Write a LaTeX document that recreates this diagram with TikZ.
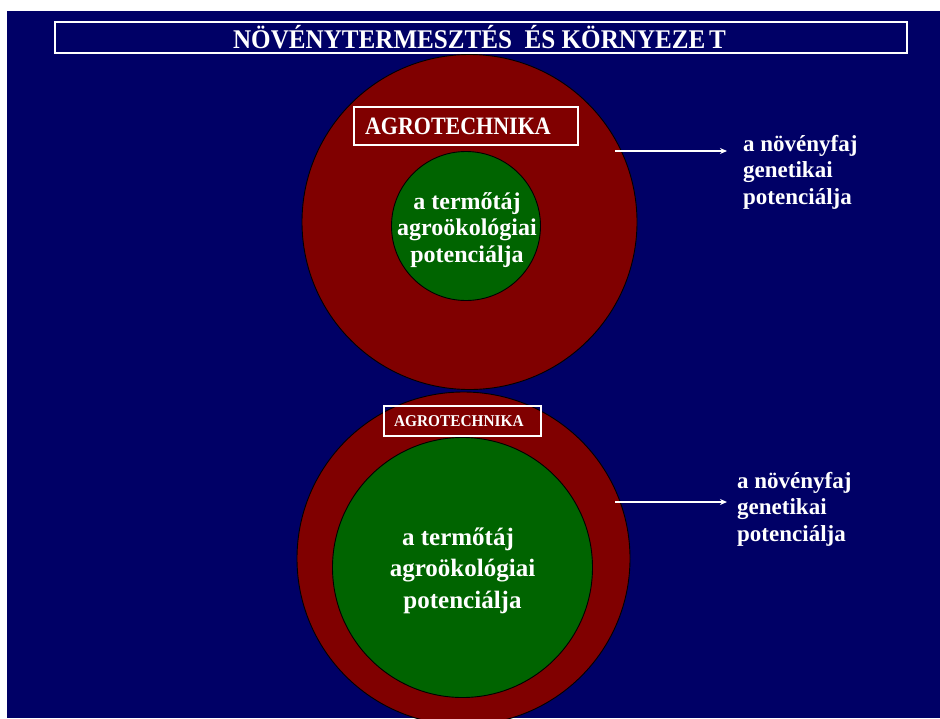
\documentclass[tikz,border=0pt]{standalone}
\usepackage{fontspec}
\setmainfont{Liberation Serif}
\usetikzlibrary{arrows.meta}
\definecolor{bgblue}{RGB}{0,0,102}
\definecolor{ringred}{RGB}{128,0,0}
\definecolor{coregreen}{RGB}{0,100,0}
\begin{document}
\begin{tikzpicture}[x=1pt,y=-1pt,
  ring/.style={circle,draw=black,line width=0.9pt,fill=ringred,inner sep=0pt},
  core/.style={circle,draw=black,line width=0.9pt,fill=coregreen,inner sep=0pt},
  coretext/.style={text=white,align=center,inner sep=0pt},
  labelbox/.style={draw=white,line width=1.3pt,text=white,align=left,inner ysep=0pt},
  sidetext/.style={text=white,align=left,inner sep=0pt,
    font=\fontsize{23}{26.5}\selectfont\bfseries},
  arr/.style={draw=white,line width=1.3pt,-{Stealth[length=7pt,width=6pt]}}]
\useasboundingbox (0,0) rectangle (940,718);
\fill[white] (0,0) rectangle (940,718);
\fill[bgblue] (7,11) rectangle (940,718);
% title
\node[draw=white,line width=1.5pt,minimum width=852pt,minimum height=31pt,inner sep=0pt] (tbox) at (481,37.5) {};
\node[text=white,anchor=base,inner sep=0pt,font=\fontsize{27}{30}\selectfont\bfseries] (title) at (479.5,48)
  {\scalebox{0.93}[1]{NÖVÉNYTERMESZTÉS\ \ ÉS KÖRNYEZE\hspace{4pt}T}};
% upper diagram
\node[ring,minimum size=335pt] (outer1) at (469.5,222) {};
\node[core,minimum size=149pt] (core1) at (466,226) {};
\node[coretext,font=\fontsize{24}{26.5}\selectfont\bfseries] (core1txt) at (467,230)
  {a termőtáj\\agroökológiai\\potenciálja};
\node[labelbox,minimum height=38pt,text width=202pt,inner xsep=11pt,
  font=\fontsize{25}{28}\selectfont\bfseries] (agro1) at (466,126)
  {\scalebox{0.88}[1]{AGROTECHNIKA}};
\node[sidetext,anchor=west] (gen1) at (743,172) {a növényfaj\\genetikai\\potenciálja};
\coordinate (a1s) at (615,151);
\coordinate (a1e) at (727,151);
\draw[arr] (a1s) -- (a1e);
% lower diagram
\node[ring,minimum size=333pt] (outer2) at (463.5,558.5) {};
\node[core,minimum size=260pt] (core2) at (462.5,567.5) {};
\node[coretext,font=\fontsize{25}{31.5}\selectfont\bfseries] (core2txt) at (462.5,570.5)
  {a termőtáj\hspace*{9pt}\\agroökológiai\\potenciálja};
\node[labelbox,minimum height=30pt,text width=137pt,inner xsep=10pt,
  font=\fontsize{16.5}{19}\selectfont\bfseries] (agro2) at (462.5,421)
  {\scalebox{0.93}[1]{AGROTECHNIKA}};
\node[sidetext,anchor=west] (gen2) at (737,509) {a növényfaj\\genetikai\\potenciálja};
\coordinate (a2s) at (615,502);
\coordinate (a2e) at (727,502);
\draw[arr] (a2s) -- (a2e);
\end{tikzpicture}
\end{document}
